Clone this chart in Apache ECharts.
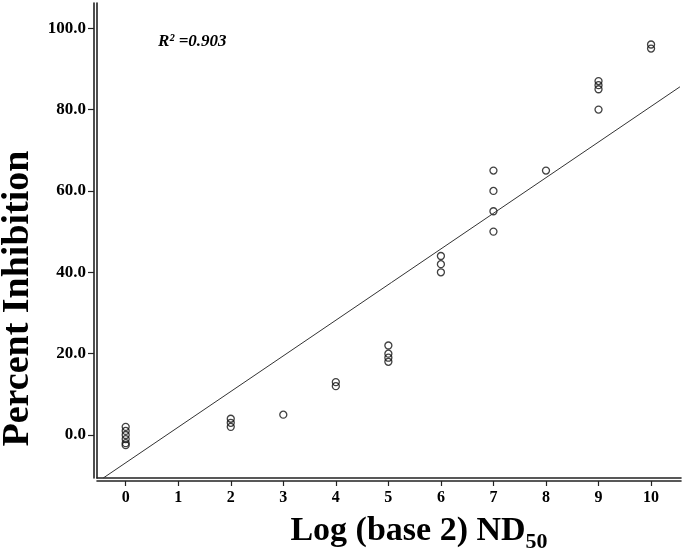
<!DOCTYPE html>
<html>
<head>
<meta charset="utf-8">
<script src="https://cdn.jsdelivr.net/npm/echarts@6/dist/echarts.min.js"></script>
<style>html,body{margin:0;padding:0;background:#fff;}#chart{width:685px;height:551px;}</style>
</head>
<body>
<div id="chart"></div>
<script>
// ---- data ----
const xValues = [0, 0, 0, 0, 0, 0, 2, 2, 2, 3, 4, 4, 5, 5, 5, 5, 6, 6, 6, 7, 7, 7, 7, 8, 9, 9, 9, 9, 10, 10];
const yValues = [2, 1, 0, -1, -2, -2.5, 4, 3, 2, 5, 13, 12, 22, 20, 19, 18, 44, 42, 40, 65, 60, 55, 50, 65, 87, 86, 85, 80, 96, 95];
const fitX = [-0.43, 10.55];
const fitY = [-10.6, 85.6];
const xTicks = [0, 1, 2, 3, 4, 5, 6, 7, 8, 9, 10];
const yTicks = [0, 20, 40, 60, 80, 100];
const r2Text = 'R\u00B2 =0.903';
const xTitle = 'Log (base 2) ND';
const xTitleSub = '50';
const yTitle = 'Percent Inhibition';

const X_MIN = -0.546, X_MAX = 10.57;
const Y_MIN = -10.57, Y_MAX = 106.2;
const SERIF = '"Liberation Serif", "DejaVu Serif", serif';

const points = xValues.map((x, i) => [x, yValues[i]]);
const fitLine = fitX.map((x, i) => [x, fitY[i]]);

const chart = echarts.init(document.getElementById('chart'), null, {renderer: 'canvas'});
const lineCol = '#222';
chart.setOption({
  animation: false,
  backgroundColor: '#fff',
  grid: {left: 97, right: 4, top: 3, bottom: 73, containLabel: false, outerBoundsMode: 'none'},
  title: {
    text: r2Text, left: 153, top: 28,
    textStyle: {fontFamily: SERIF, fontStyle: 'italic', fontWeight: 'bold', fontSize: 17, color: '#000'}
  },
  xAxis: [{
    type: 'value', min: X_MIN, max: X_MAX, position: 'bottom', offset: 3,
    splitLine: {show: false},
    axisLine: {show: true, onZero: false, lineStyle: {color: lineCol, width: 1.6}},
    axisTick: {show: true, length: 5, customValues: xTicks, lineStyle: {color: lineCol, width: 1.2}},
    axisLabel: {customValues: xTicks, margin: 9, fontFamily: SERIF, fontWeight: 'bold', fontSize: 16, color: '#000'},
    name: '{a|' + xTitle + '}{b|' + xTitleSub + '}',
    nameLocation: 'middle', nameGap: 28,
    nameTextStyle: {
      padding: [0, 0, 0, 60],
      rich: {
        a: {fontFamily: SERIF, fontWeight: 'bold', fontSize: 34, color: '#000'},
        b: {fontFamily: SERIF, fontWeight: 'bold', fontSize: 22, color: '#000', padding: [22, 0, 0, 0]}
      }
    }
  }, {
    type: 'value', min: X_MIN, max: X_MAX, position: 'bottom', offset: 0,
    splitLine: {show: false},
    axisLine: {show: true, onZero: false, lineStyle: {color: lineCol, width: 1.6}},
    axisTick: {show: false}, axisLabel: {show: false}
  }],
  yAxis: [{
    type: 'value', min: Y_MIN, max: Y_MAX, position: 'left', offset: 3,
    splitLine: {show: false},
    axisLine: {show: true, onZero: false, lineStyle: {color: lineCol, width: 1.6}},
    axisTick: {show: true, length: 6, customValues: yTicks, lineStyle: {color: lineCol, width: 1.2}},
    axisLabel: {customValues: yTicks, margin: 8, formatter: v => v.toFixed(1),
      fontFamily: SERIF, fontWeight: 'bold', fontSize: 17, color: '#000'},
    name: yTitle, nameLocation: 'middle', nameGap: 55,
    nameTextStyle: {fontFamily: SERIF, fontWeight: 'bold', fontSize: 38, color: '#000', padding: [0, 116, 0, 0]}
  }, {
    type: 'value', min: Y_MIN, max: Y_MAX, position: 'left', offset: 0,
    splitLine: {show: false},
    axisLine: {show: true, onZero: false, lineStyle: {color: lineCol, width: 1.6}},
    axisTick: {show: false}, axisLabel: {show: false}
  }],
  series: [{
    type: 'line', data: fitLine, xAxisIndex: 0, yAxisIndex: 0,
    symbol: 'none', silent: true, clip: true,
    lineStyle: {color: '#333', width: 1}
  }, {
    type: 'scatter', data: points, xAxisIndex: 0, yAxisIndex: 0,
    symbol: 'circle', symbolSize: 7,
    itemStyle: {color: 'rgba(0,0,0,0)', borderColor: '#111', borderWidth: 1.3}
  }]
});
</script>
</body>
</html>
